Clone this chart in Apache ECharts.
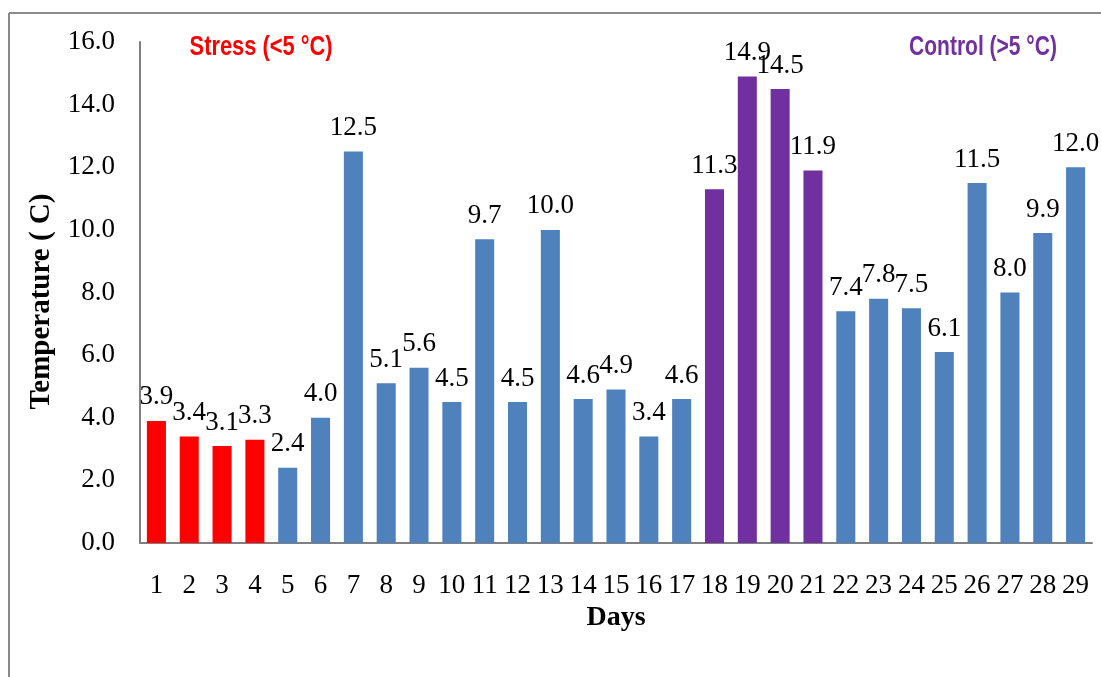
<!DOCTYPE html>
<html>
<head>
<meta charset="utf-8">
<script src="https://cdn.jsdelivr.net/npm/echarts@6/dist/echarts.min.js"></script>
<style>
html,body{margin:0;padding:0;background:#fff;}
#chart{width:1101px;height:677px;}
</style>
</head>
<body>
<div id="chart"></div>
<script>
const days = ['1','2','3','4','5','6','7','8','9','10','11','12','13','14','15','16','17','18','19','20','21','22','23','24','25','26','27','28','29'];
const temperatures = [3.9,3.4,3.1,3.3,2.4,4.0,12.5,5.1,5.6,4.5,9.7,4.5,10.0,4.6,4.9,3.4,4.6,11.3,14.9,14.5,11.9,7.4,7.8,7.5,6.1,11.5,8.0,9.9,12.0];
const groups = ['stress','stress','stress','stress','other','other','other','other','other','other','other','other','other','other','other','other','other','control','control','control','control','other','other','other','other','other','other','other','other'];
const yTicks = ['0.0','2.0','4.0','6.0','8.0','10.0','12.0','14.0','16.0'];
const groupColors = {stress:'#FF0000', control:'#7030A0', other:'#4F81BD'};
const stressLabel = 'Stress (<5 °C)';
const controlLabel = 'Control (>5 °C)';

const serif = '"Liberation Serif","Times New Roman",serif';
const chart = echarts.init(document.getElementById('chart'), null, {renderer:'canvas'});
chart.setOption({
  backgroundColor:'#fff',
  animation:false,
  grid:{left:140, right:9, top:42, bottom:134},
  xAxis:{
    type:'category',
    data:days,
    name:'Days',
    nameLocation:'middle',
    nameGap:60,
    nameTextStyle:{fontFamily:serif, fontSize:28, fontWeight:'bold', color:'#000'},
    axisLine:{lineStyle:{color:'#808080', width:2}},
    axisTick:{show:false},
    axisLabel:{interval:0, margin:29, fontFamily:serif, fontSize:27, color:'#000'}
  },
  yAxis:{
    type:'value',
    min:0, max:16, interval:2,
    name:'Temperature ( C)',
    nameLocation:'middle',
    nameGap:84,
    nameRotate:90,
    nameTextStyle:{fontFamily:serif, fontSize:29, fontWeight:'bold', color:'#000', padding:[0,18,0,0]},
    axisLine:{show:true, lineStyle:{color:'#808080', width:2}},
    axisTick:{show:false},
    splitLine:{show:false},
    axisLabel:{margin:25, fontFamily:serif, fontSize:27, color:'#000',
      formatter:function(v){return yTicks[Math.round(v/2)] || v.toFixed(1);}}
  },
  graphic:[
    {type:'line', shape:{x1:9, y1:13, x2:1101, y2:13}, style:{stroke:'#8a8a8a', lineWidth:2}, silent:true},
    {type:'line', shape:{x1:9, y1:13, x2:9, y2:677}, style:{stroke:'#8a8a8a', lineWidth:2}, silent:true},
    {type:'text', x:261, y:47, scaleX:0.78, style:{text:stressLabel, fill:'#FF0000', font:'bold 28px "Liberation Sans", Arial, sans-serif', textAlign:'center', textVerticalAlign:'middle'}},
    {type:'text', x:983, y:47, scaleX:0.75, style:{text:controlLabel, fill:'#7030A0', font:'bold 28px "Liberation Sans", Arial, sans-serif', textAlign:'center', textVerticalAlign:'middle'}}
  ],
  series:[{
    type:'bar',
    barWidth:'58%',
    data:temperatures.map(function(v,i){return {value:v, itemStyle:{color:groupColors[groups[i]]}};}),
    label:{show:true, position:'top', distance:10, fontFamily:serif, fontSize:27, color:'#000',
      formatter:function(p){return p.value.toFixed(1);}}
  }]
});
</script>
</body>
</html>
